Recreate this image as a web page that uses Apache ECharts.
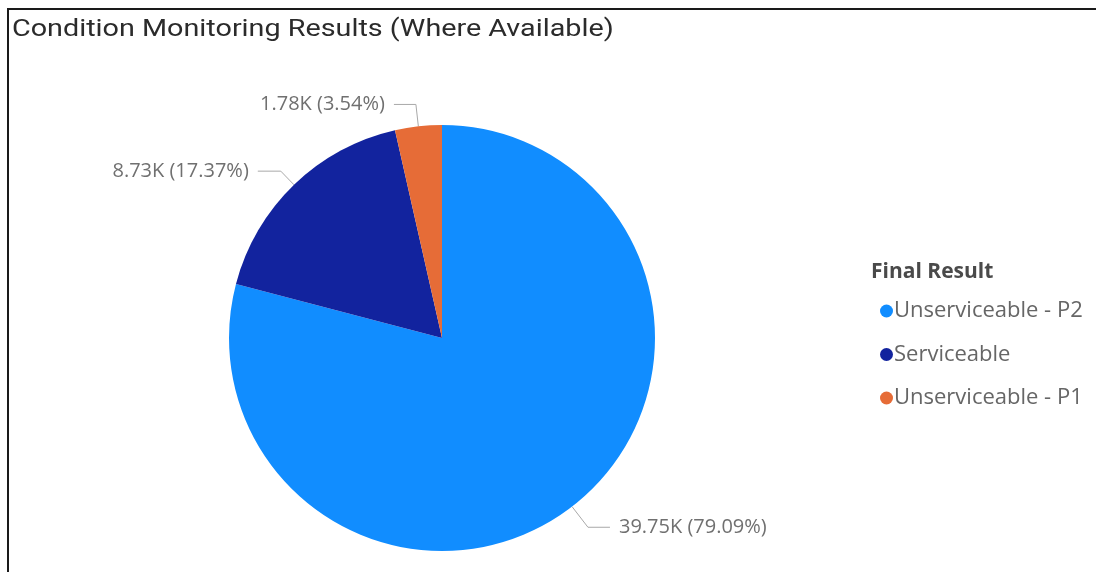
<!DOCTYPE html>
<html>
<head>
<meta charset="utf-8">
<style>
  html, body { margin: 0; padding: 0; background: #fff; }
  #chart { width: 1096px; height: 572px; }
</style>
<script src="https://cdn.jsdelivr.net/npm/echarts@6/dist/echarts.min.js"></script>
</head>
<body>
<div id="chart"></div>
<script>
// Condition monitoring outcome counts
const categories = ['Unserviceable - P2', 'Serviceable', 'Unserviceable - P1'];
const counts = [39750, 8730, 1780];
const colors = ['#118DFF', '#12239E', '#E66C37'];
const chartTitle = 'Condition Monitoring Results (Where Available)';
const legendTitle = 'Final Result';

const chart = echarts.init(document.getElementById('chart'), null, { renderer: 'canvas' });

const fmtK = v => (v / 1000).toFixed(2) + 'K';

// leader line lengths per slice
const leaderLines = [
  { length: 26, length2: 22 },
  { length: 19, length2: 23 },
  { length: 22, length2: 22 }
];

const pieData = categories.map((name, i) => ({
  name,
  value: counts[i],
  itemStyle: { color: colors[i] },
  labelLine: leaderLines[i]
}));

chart.setOption({
  animation: false,
  legend: {
    orient: 'vertical',
    left: 875, top: 294,
    icon: 'circle',
    itemWidth: 13, itemHeight: 13,
    itemGap: 19.5,
    textStyle: { fontFamily: 'Open Sans', fontSize: 22, color: '#666666', lineHeight: 24, padding: [0, 0, 0, -4] },
    data: categories
  },
  graphic: [
    {
      type: 'polyline',
      shape: { points: [[8, 572], [8, 9], [1096, 9]] },
      style: { stroke: '#1a1a1a', lineWidth: 2, fill: null },
      silent: true
    },
    {
      type: 'text',
      x: 12, y: 30,
      scaleX: 1.25,
      style: {
        text: chartTitle,
        font: '23px Roboto',
        fill: '#2b2b2b',
        textVerticalAlign: 'middle'
      },
      silent: true
    },
    {
      type: 'text',
      x: 871, y: 272,
      style: {
        text: legendTitle,
        font: 'bold 21px "Open Sans"',
        fill: '#4a4a4a',
        textVerticalAlign: 'middle'
      },
      silent: true
    }
  ],
  series: [
    {
      type: 'pie',
      center: [442, 338],
      radius: 213,
      startAngle: 90,
      clockwise: true,
      avoidLabelOverlap: false,
      label: {
        show: true,
        position: 'outside',
        formatter: p => fmtK(p.value) + ' (' + p.percent.toFixed(2) + '%)',
        fontFamily: 'Open Sans',
        fontSize: 20,
        color: '#707070',
        distanceToLabelLine: 9
      },
      labelLine: {
        show: true,
        lineStyle: { color: '#a8a8a8', width: 1 }
      },
      emphasis: { disabled: true },
      data: pieData
    }
  ]
});
</script>
</body>
</html>
